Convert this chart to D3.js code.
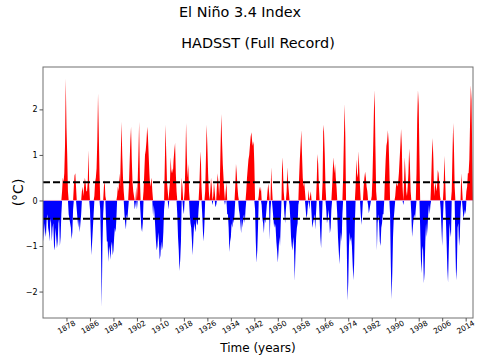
<!DOCTYPE html>
<html>
<head>
<meta charset="utf-8">
<script src="https://cdn.jsdelivr.net/npm/d3@7"></script>
<style>
  body { margin: 0; background: #fff; }
  text { font-family: "DejaVu Sans", sans-serif; fill: #000; }
</style>
</head>
<body>
<div id="chart-area"></div>
<script>
// data: nino 3.4 anomaly (deg C) at 4 samples a year (jan, apr, jul, oct)
var startYear = 1870;
var samplesPerYear = 4;
var anomaly = [
  -0.6, -0.9, -0.5, -0.7,   -0.8, -0.4, -0.3, -0.6,   -0.7, -0.9, -0.4, -0.5,   -0.9, -0.6, -0.5, -1.0,   -1.1, -0.6, -0.8, -1.05,
  -0.9, -0.5, -0.4, -1.0,   -0.8, -0.3, 0.2, 0.5,     0.4, 0.6, 1.2, 2.68,      1.6, 1.0, 0.2, -0.3,      -0.4, -0.5, -0.6, -0.85,
  -0.7, -0.2, 0.3, 0.55,    0.6, 0.3, -0.2, -0.4,     -0.6, -0.4, -0.7, -0.5,   -0.3, 0.2, 0.3, 0.1,      0.3, 0.5, 0.4, 0.2,
  0.2, 0.4, 1.1, 0.3,       -0.2, -0.7, -1.2, -0.9,   -0.6, -0.3, 0.1, 0.4,     0.5, 0.7, 1.3, 2.35,      1.5, 0.6, -0.2, -1.0,
  -2.33, -1.0, -0.3, 0.3,   0.45, 0.1, -0.5, -0.9,    -0.9, -1.35, -1.0, -1.1,  -1.3, -1.0, -0.9, -1.2,   -1.1, -0.8, -0.6, -0.7,
  -0.4, 0.1, 0.3, 0.2,      0.6, 0.3, 1.0, 1.73,      1.0, 0.5, 0.2, -0.3,      -0.5, -0.64, -0.3, -0.4,  -0.2, 0.3, 0.8, 1.3,
  1.62, 0.9, 0.4, 0.2,      0.1, -0.2, -0.1, 0.3,     -0.2, 0.4, 1.0, 1.73,     0.5, -0.3, -0.6, -0.69,   -0.5, 0.2, 0.6, 1.0,
  1.1, 1.3, 1.62, 1.4,      1.0, 0.6, 0.3, 0.4,       0.5, 0.2, -0.35, -0.1,    -0.3, -0.6, -0.9, -1.1,   -1.0, -0.7, -0.9, -1.3,
  -1.2, -0.9, -1.1, -1.0,   -0.7, -0.2, 0.8, 1.66,    1.0, 0.4, 0.2, -0.2,      0.2, 0.4, 0.95, 0.6,      0.7, 0.6, 0.9, 1.1,
  1.26, 0.6, 0.2, -0.3,     -0.8, -1.1, -1.55, -1.3,  -0.9, 0.5, 0.3, -0.2,     -0.3, 0.2, 0.8, 1.7,      1.0, 0.5, 0.8, 0.2,
  -0.3, -0.5, -0.6, -0.9,   -1.2, -0.8, -0.5, -0.6,   -0.7, -0.4, -0.55, -0.5,  -0.2, 0.3, 0.8, 1.08,     0.3, -0.3, -0.7, -0.9,
  -0.5, 0.2, 0.9, 1.66,     1.2, 0.6, 0.2, 0.0,       0.2, 0.5, 0.3, -0.1,      0.1, 0.4, 0.2, -0.15,     -0.1, 0.3, 0.6, 0.4,
  0.1, 0.4, 1.2, 1.9,       1.3, 0.8, 0.5, 0.2,       -0.1, 0.2, 0.4, -0.3,     -0.3, -0.6, -1.13, -0.9,  -0.8, -0.5, -0.6, -0.4,
  -0.5, -0.3, 0.3, 0.8,     0.6, 0.3, 0.1, -0.2,      -0.3, -0.5, -0.72, -0.4,  -0.6, -0.4, -0.3, -0.5,   -0.2, 0.2, 0.5, 0.7,
  0.9, 1.0, 1.2, 1.4,       1.5, 1.3, 1.2, 1.3,       0.8, -0.2, -0.9, -1.37,   -1.1, -0.6, 0.1, 0.3,     0.2, 0.3, -0.1, -0.4,
  -0.5, -0.72, -0.4, -0.5,  -0.3, -0.1, 0.2, 0.37,    0.2, -0.87, -0.2, 0.73,   0.3, -0.2, -0.4, -0.6,    -0.5, -0.6, -0.9, -1.1,
  -1.37, -1.1, -0.8, -1.0,  -0.5, 0.0, 0.95, 0.7,     0.2, -0.3, -0.5, -0.2,    0.2, 0.73, 0.4, 0.2,      -0.1, -0.4, -0.8, -1.0,
  -1.1, -0.8, -1.0, -1.77,  -1.2, -0.8, -0.6, -0.5,   -0.1, 0.5, 0.9, 1.2,      1.54, 1.0, 0.5, 0.3,      0.4, 0.2, -0.2, -0.4,
  -0.3, -0.1, 0.24, -0.2,   0.1, 0.2, -0.3, -0.6,     -0.5, -0.4, -0.3, -0.64,  -0.3, 0.4, 1.02, 0.8,     0.3, -0.4, -0.8, -1.05,
  -0.5, 0.4, 1.66, 1.5,     1.0, 0.3, -0.2, -0.5,     -0.4, -0.2, -0.4, -0.72,  -0.6, -0.2, 0.3, 0.7,     0.95, 0.6, 0.8, 0.5,
  0.3, -0.3, -0.8, -1.1,    -1.4, -1.0, -0.7, -0.9,   -0.3, 0.5, 1.3, 2.12,     1.4, 0.0, -1.0, -2.2,     -1.8, -1.0, -0.7, -0.9,
  -0.8, -1.0, -1.4, -1.75,  -1.4, -0.5, 0.3, 0.9,     0.6, 0.5, 1.08, 0.7,      0.3, -0.3, -0.54, -0.3,   0.0, 0.3, 0.5, 0.63,
  0.5, 0.3, 0.2, -0.1,      -0.28, -0.2, -0.1, 0.0,   0.1, 0.5, 1.2, 2.0,       2.42, 1.2, 0.2, -1.1,     -0.5, -0.3, -0.5, -0.9,
  -1.0, -0.6, -0.5, -0.3,   -0.3, 0.0, 0.5, 0.9,      1.2, 1.3, 1.54, 1.3,      0.7, -0.3, -1.4, -2.17,   -1.6, -0.8, -0.4, -0.2,
  0.1, 0.3, 0.4, 0.3,       0.4, 0.6, 0.9, 1.2,       1.57, 1.2, 0.3, -0.1,     0.4, 0.95, 0.6, 0.2,      0.1, 0.3, 0.6, 1.14,
  0.8, 0.2, -0.3, -0.8,     -0.6, -0.4, -0.3, -0.4,   -0.2, 0.6, 1.8, 2.42,     2.1, 1.0, -0.6, -1.3,     -1.6, -1.0, -1.1, -1.82,
  -1.6, -0.9, -0.5, -0.8,   -0.6, -0.3, -0.1, -0.3,   -0.1, 0.4, 1.0, 1.37,     0.9, 0.1, 0.3, 0.4,       0.2, 0.3, 0.67, 0.6,
  0.4, 0.1, -0.2, -0.6,     -1.0, -0.4, 0.3, 0.98,    0.5, -0.4, -0.9, -1.5,    -1.8, -1.1, -0.5, -0.7,   -0.8, 0.2, 1.0, 1.7,
  1.2, 0.3, -1.0, -1.75,    -1.5, -0.6, -0.5, -1.0,   -0.8, -0.2, 0.6, 0.3,     -0.2, -0.4, -0.3, -0.2,   -0.3, 0.2, 0.3, 0.6,
  0.6, 0.9, 1.7, 2.53,      2.2, 1.0, 0.0
];
var thresholds = [0.4, -0.4];
var xTicks = [1878, 1886, 1894, 1902, 1910, 1918, 1926, 1934, 1942, 1950, 1958, 1966, 1974, 1982, 1990, 1998, 2006, 2014];
var yTicks = [-2, -1, 0, 1, 2];

// setting up SVG drawing area
var margin = { top: 67, right: 7, bottom: 42, left: 43 };
var width = 480 - margin.left - margin.right;
var height = 360 - margin.top - margin.bottom;

var svgRoot = d3
  .select("#chart-area")
  .append("svg")
  .attr("width", 480)
  .attr("height", 360);

var svg = svgRoot
  .append("g")
  .attr("transform", `translate(${margin.left}, ${margin.top})`);

var data = anomaly.map((v, i) => ({ t: startYear + i / samplesPerYear, v: v }));

// scales (y padded by 5% like matplotlib autoscale)
var x = d3.scaleLinear().domain(d3.extent(data, (d) => d.t)).range([0, width]);
var ext = d3.extent(data, (d) => d.v);
var pad = (ext[1] - ext[0]) * 0.05;
var y = d3.scaleLinear().domain([ext[0] - pad, ext[1] + pad]).range([height, 0]);

// red above zero, blue below
var posArea = d3.area().x((d) => x(d.t)).y0(y(0)).y1((d) => y(Math.max(d.v, 0)));
var negArea = d3.area().x((d) => x(d.t)).y0(y(0)).y1((d) => y(Math.min(d.v, 0)));

svg.append("path").datum(data).attr("fill", "#ff0000").attr("d", posArea);
svg.append("path").datum(data).attr("fill", "#0000ff").attr("d", negArea);

// faint edge at zero
svg
  .append("line")
  .attr("x1", 0)
  .attr("x2", width)
  .attr("y1", y(0))
  .attr("y2", y(0))
  .attr("stroke", "#e9a9cf")
  .attr("stroke-width", 0.8);

// threshold lines
svg
  .selectAll(".thresh")
  .data(thresholds)
  .join("line")
  .attr("class", "thresh")
  .attr("x1", 0)
  .attr("x2", width)
  .attr("y1", (d) => y(d))
  .attr("y2", (d) => y(d))
  .attr("stroke", "#000")
  .attr("stroke-width", 2)
  .attr("stroke-dasharray", "7,3");

// frame
svg
  .append("rect")
  .attr("width", width)
  .attr("height", height)
  .attr("fill", "none")
  .attr("stroke", "#707070")
  .attr("stroke-width", 1);

// axes
var xAxis = d3.axisBottom(x).tickValues(xTicks).tickSize(3.5).tickFormat("");
var yAxis = d3.axisLeft(y).tickValues(yTicks).tickSize(3.5).tickPadding(2)
  .tickFormat((d) => (d < 0 ? "\u2212" + Math.abs(d) : d));

var gx = svg.append("g").attr("transform", `translate(0, ${height})`).call(xAxis);
var gy = svg.append("g").call(yAxis);
gx.select(".domain").remove();
gy.select(".domain").remove();
gx.selectAll(".tick line").attr("stroke", "#555");
gy.selectAll(".tick line").attr("stroke", "#555");
gy.selectAll(".tick text").style("font-size", "8px").style("font-family", "DejaVu Sans");

// rotated year labels
svg
  .selectAll(".xlab")
  .data(xTicks)
  .join("text")
  .attr("class", "xlab")
  .attr("transform", (d) => `translate(${x(d)}, ${height + 9}) rotate(-30)`)
  .attr("text-anchor", "middle")
  .attr("dy", "0.35em")
  .style("font-size", "7.5px")
  .text((d) => d);

// titles and labels
svgRoot
  .append("text")
  .attr("x", 240)
  .attr("y", 17)
  .attr("text-anchor", "middle")
  .style("font-size", "14.4px")
  .text("El Niño 3.4 Index");

svgRoot
  .append("text")
  .attr("x", margin.left + width / 2)
  .attr("y", 48)
  .attr("text-anchor", "middle")
  .style("font-size", "14.4px")
  .text("HADSST (Full Record)");

svgRoot
  .append("text")
  .attr("x", margin.left + width / 2)
  .attr("y", 352)
  .attr("text-anchor", "middle")
  .style("font-size", "12px")
  .text("Time (years)");

svgRoot
  .append("text")
  .attr("transform", `translate(23, ${margin.top + height / 2}) rotate(-90)`)
  .attr("text-anchor", "middle")
  .style("font-size", "14px")
  .text("(°C)");
</script>
</body>
</html>
